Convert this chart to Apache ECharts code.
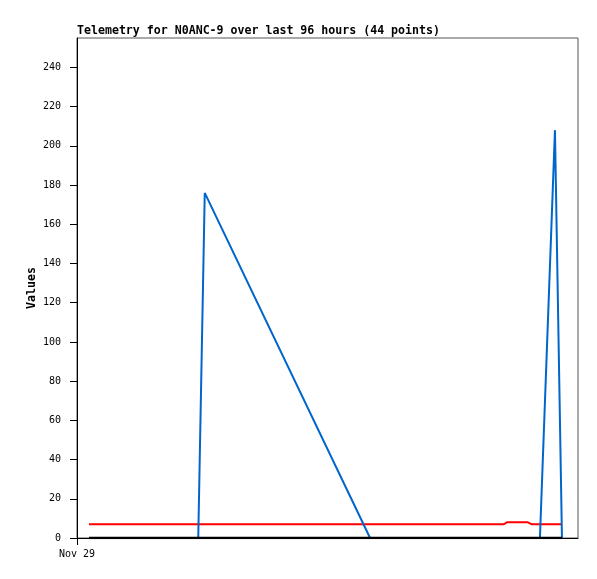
<!DOCTYPE html>
<html>
<head>
<meta charset="utf-8">
<script src="https://cdn.jsdelivr.net/npm/echarts@6/dist/echarts.min.js"></script>
<style>
  html, body { margin: 0; padding: 0; background: #fff; }
  #chart { width: 597px; height: 579px; }
</style>
</head>
<body>
<div id="chart"></div>
<script>
// hours since the left edge of the window (Nov 29)
const hours = [2.4, 24.2, 25.5, 58.5, 85.2, 85.8, 90.0, 90.8, 92.4, 95.4, 96.8]
const blueValues = [0, 0, 176, 0, 0, 0, 0, 0, 0, 208, 0]
const redValues = [7, 7, 7, 7, 7, 8, 8, 7, 7, 7, 7]
const blackValues = [0, 0, 0, 0, 0, 0, 0, 0, 0, 0, 0]
const yTicks = [0, 20, 40, 60, 80, 100, 120, 140, 160, 180, 200, 220, 240]
const xLabel = 'Nov 29'
const yName = 'Values'

const mono = '"DejaVu Sans Mono", monospace'

function pairs(values) {
  return values.map((v, i) => [hours[i], v])
}

const chart = echarts.init(document.getElementById('chart'))
const option = {
  animation: false,
  title: {
    text: 'Telemetry for N0ANC-9 over last 96 hours (44 points)',
    left: 72,
    top: 20,
    textStyle: { fontFamily: mono, fontSize: 11.6, fontWeight: 'bold', color: '#000' },
  },
  // axis name placed by hand, v6 pushes the built-in one too far left
  graphic: [{
    type: 'text',
    x: 32,
    y: 288,
    rotation: Math.PI / 2,
    style: {
      text: yName,
      font: 'bold 11.6px ' + mono,
      fill: '#000',
      align: 'center',
      verticalAlign: 'middle',
    },
  }],
  grid: {
    left: 77,
    right: 19,
    top: 38,
    bottom: 41,
    show: true,
    borderColor: '#555',
    borderWidth: 1,
  },
  xAxis: {
    type: 'value',
    min: 0,
    max: 100,
    splitLine: { show: false },
    axisLine: { lineStyle: { color: '#000' } },
    axisTick: { length: 7, customValues: [0], lineStyle: { color: '#000' } },
    axisLabel: {
      customValues: [0],
      formatter: () => xLabel,
      fontFamily: mono,
      fontSize: 10,
      color: '#000',
      margin: 11,
    },
  },
  yAxis: {
    type: 'value',
    min: 0,
    max: yTicks[yTicks.length - 1] + 15,
    interval: 20,
    splitLine: { show: false },
    axisLine: { show: true, lineStyle: { color: '#000' } },
    axisTick: { show: true, length: 7, lineStyle: { color: '#000' } },
    axisLabel: {
      formatter: v => (yTicks.includes(v) ? String(v) : ''),
      fontFamily: mono,
      fontSize: 10,
      color: '#000',
      margin: 16,
      showMaxLabel: false,
    },
  },
  series: [
    { name: 'Channel 2', type: 'line', data: pairs(redValues), symbol: 'none', lineStyle: { color: '#ff0000', width: 2 }, z: 2 },
    { name: 'Channel 1', type: 'line', data: pairs(blueValues), symbol: 'none', lineStyle: { color: '#0066cc', width: 2 }, z: 3 },
    { name: 'Channel 3', type: 'line', data: pairs(blackValues), symbol: 'none', lineStyle: { color: '#000', width: 2.5 }, z: 4 },
  ],
}
chart.setOption(option)
</script>
</body>
</html>
